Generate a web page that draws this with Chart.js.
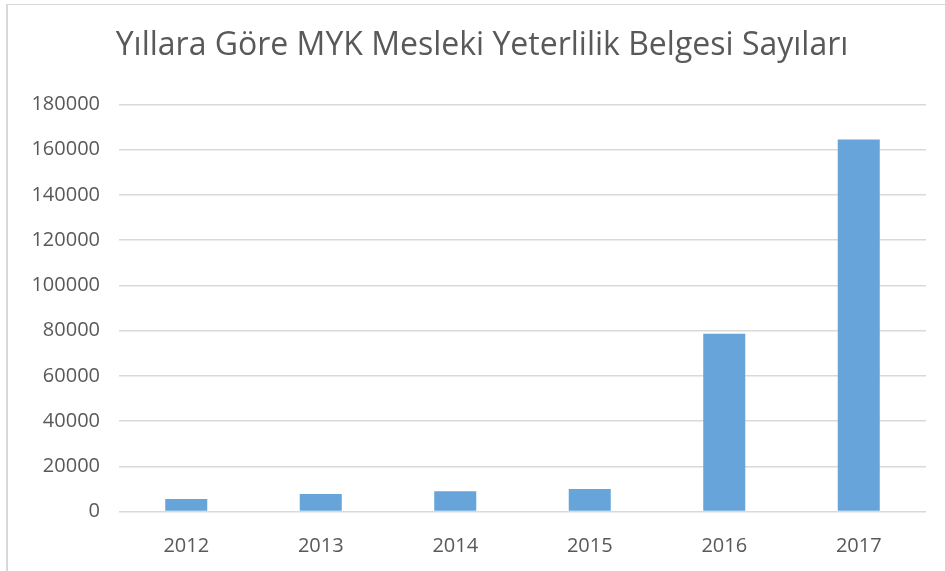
<!DOCTYPE html>
<html>
<head>
<meta charset="utf-8">
<script src="https://cdn.jsdelivr.net/npm/chart.js@4"></script>
<style>
  html, body { margin: 0; padding: 0; background: #fff; }
  #frame {
    position: absolute; left: 6px; top: 4px; width: 960px; height: 600px;
    border-left: 2px solid #d9d9d9; border-top: 1px solid #d9d9d9;
  }
  #wrap { position: absolute; left: 0; top: 0; width: 945px; height: 571px; }
</style>
</head>
<body>
<div id="frame"></div>
<div id="wrap"><canvas id="myk_chart" width="945" height="571"></canvas></div>
<script>
// years and certificate counts
var years = ["2012", "2013", "2014", "2015", "2016", "2017"];
var belgeSayisi = [5500, 7700, 9000, 9900, 78600, 164500];
var chartTitle = "Yıllara Göre MYK Mesleki Yeterlilik Belgesi Sayıları";

var ctx = document.getElementById("myk_chart");

var dataFirst = {
    label: "Belge Sayısı",
    data: belgeSayisi,
    backgroundColor: '#66a4da',
    borderWidth: 0,
    barPercentage: 0.3125,
    categoryPercentage: 1
};

// nudge the title a bit right, like in the original
var titleShift = {
    id: 'titleShift',
    afterLayout: function(chart) {
        if (chart.titleBlock) chart.titleBlock.left = 38;
    }
};

var chartOptions = {
    responsive: false,
    animation: false,
    layout: {
        padding: { left: 0, right: 19, top: 0, bottom: 0 }
    },
    plugins: {
        legend: { display: false },
        tooltip: { enabled: false },
        title: {
            display: true,
            text: chartTitle,
            color: '#595959',
            font: { family: "'Open Sans'", size: 32, weight: 'normal', lineHeight: 1.2 },
            padding: { top: 27, bottom: 39 }
        }
    },
    scales: {
        x: {
            afterFit: function(scale) { scale.height = 59.5; },
            grid: { display: false },
            border: { display: false },
            ticks: {
                color: '#595959',
                font: { family: "'Open Sans'", size: 20 },
                padding: 15
            }
        },
        y: {
            min: 0,
            max: 180000,
            afterFit: function(scale) { scale.width = 119; },
            grid: { color: '#d9d9d9', lineWidth: 1.5, drawTicks: false },
            border: { display: false },
            ticks: {
                stepSize: 20000,
                color: '#595959',
                font: { family: "'Open Sans'", size: 20 },
                padding: 19,
                callback: function(value) { return String(value); }
            }
        }
    }
};

var barChart = new Chart(ctx, {
    type: 'bar',
    data: { labels: years, datasets: [dataFirst] },
    options: chartOptions,
    plugins: [titleShift]
});
</script>
</body>
</html>
